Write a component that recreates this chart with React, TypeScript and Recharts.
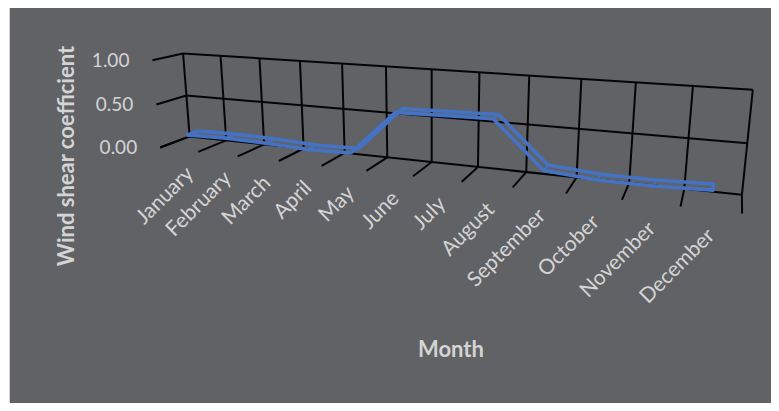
import { LineChart, Line, XAxis, YAxis, CartesianGrid } from "recharts";

const months = [
  "January", "February", "March", "April", "May", "June",
  "July", "August", "September", "October", "November", "December",
];
const shearCoefficient = [0.13, 0.14, 0.13, 0.11, 0.12, 0.6, 0.61, 0.62, 0.15, 0.11, 0.11, 0.13];
const valueTicks = [0, 0.5, 1];
const monthCenters = months.map((_, i) => i + 0.5);
const monthEdges = [...months.map((_, i) => i), months.length];

const data = months.map((month, i) => ({ month, pos: monthCenters[i], shear: shearCoefficient[i] }));

const WIDTH = 779;
const HEIGHT = 411;
// flat plot area handed to recharts; everything inside it is re-projected onto the 3-D box
const PLOT = { left: 100, top: 60, width: 560, height: 240 };
// the axes keep a 1px strip so that their ticks are still rendered
const AXIS_STRIP = 1;

const BLUE = "#4472c4";
const GRID = "#050505";
const TEXT = "#d4d4d4";
const FONT = "Lato, 'Open Sans', sans-serif";

// where the corners of the box land on screen: [u, v, w, x, y]
// u runs across the months, v up the value axis, w from the back wall (0) to the front (1)
const BOX_REFS = [
  [0, 1, 0, 183, 53],
  [0.5, 1, 0, 431.5, 70],
  [1, 1, 0, 753, 89.5],
  [0, 0.5, 0, 187, 96],
  [1, 0.5, 0, 747, 143],
  [0, 0, 0, 189, 137],
  [0.5, 0, 0, 432, 161],
  [1, 0, 0, 742, 195],
  [0, 1, 1, 152, 60],
  [0, 0.5, 1, 157, 105],
  [0, 0, 1, 160, 147],
  [1, 0, 1, 742, 214],
];
const RIBBON_BACK = 0.32;
const RIBBON_FRONT = 0.68;

// least squares fit of a 3x4 perspective camera (last entry fixed to 1)
function fitCamera(refs: number[][]) {
  const n = 11;
  const M = Array.from({ length: n }, () => new Array(n + 1).fill(0));
  for (const [u, v, w, x, y] of refs) {
    const rows = [
      [u, v, w, 1, 0, 0, 0, 0, -x * u, -x * v, -x * w, x],
      [0, 0, 0, 0, u, v, w, 1, -y * u, -y * v, -y * w, y],
    ];
    for (const r of rows)
      for (let i = 0; i < n; i++)
        for (let j = 0; j <= n; j++) M[i][j] += r[i] * r[j];
  }
  for (let c = 0; c < n; c++) {
    let p = c;
    for (let r = c + 1; r < n; r++) if (Math.abs(M[r][c]) > Math.abs(M[p][c])) p = r;
    [M[c], M[p]] = [M[p], M[c]];
    for (let r = 0; r < n; r++) {
      if (r === c) continue;
      const f = M[r][c] / M[c][c];
      for (let j = c; j <= n; j++) M[r][j] -= f * M[c][j];
    }
  }
  return M.map((row, i) => row[n] / row[i]);
}

const cam = fitCamera(BOX_REFS);

function project(u: number, v: number, w: number): [number, number] {
  const d = cam[8] * u + cam[9] * v + cam[10] * w + 1;
  return [
    (cam[0] * u + cam[1] * v + cam[2] * w + cam[3]) / d,
    (cam[4] * u + cam[5] * v + cam[6] * w + cam[7]) / d,
  ];
}

const toBox = (x: number, y: number) => [
  (x - PLOT.left) / PLOT.width,
  (PLOT.top + PLOT.height - y) / PLOT.height,
];

const Seg = ({ a, b, width = 2 }: { a: [number, number]; b: [number, number]; width?: number }) => (
  <line x1={a[0]} y1={a[1]} x2={b[0]} y2={b[1]} stroke={GRID} strokeWidth={width} />
);

// month boundary: wall column plus the floor tick in front of it
const wallColumn = (props: any) => {
  const [u] = toBox(props.x1, props.y1);
  return (
    <g key={props.key}>
      <Seg a={project(u, 1, 0)} b={project(u, 0, 0)} />
      <Seg a={project(u, 0, 0)} b={project(u, 0, 1)} />
    </g>
  );
};

// value gridline across the back wall plus its stub on the side wall
const wallRow = (props: any) => {
  const [, v] = toBox(props.x1, props.y1);
  return (
    <g key={props.key}>
      <Seg a={project(0, v, 0)} b={project(1, v, 0)} />
      <Seg a={project(0, v, 1)} b={project(0, v, 0)} />
    </g>
  );
};

const renderRibbon = (props: any) => {
  const { index, points } = props;
  if (index !== 0 || !points) return <g key={`dot-${index}`} />;
  const edges = points.map((p: any) => {
    const [u, v] = toBox(p.x, p.y);
    return [project(u, v, RIBBON_BACK), project(u, v, RIBBON_FRONT)];
  });
  const back = edges.map((e: any) => e[0].join(",")).join(" ");
  const front = edges.map((e: any) => e[1].join(",")).join(" ");
  return (
    <g key="ribbon" fill="none" stroke={BLUE} strokeLinejoin="round" strokeLinecap="round">
      <polyline points={back} strokeWidth={3.6} />
      <polyline points={front} strokeWidth={3.6} />
      {edges.map(([b, f]: any, i: number) => (
        <line
          key={i}
          x1={b[0]}
          y1={b[1]}
          x2={f[0]}
          y2={f[1]}
          strokeWidth={i === 0 || i === edges.length - 1 ? 3.6 : 2}
        />
      ))}
    </g>
  );
};

const ValueTick = (props: any) => {
  const [, v] = toBox(PLOT.left, props.y);
  const [x, y] = project(0, v, 1);
  return (
    <text x={x - 23} y={y} dy="0.35em" textAnchor="end" fill={TEXT} fontSize={19} fontFamily={FONT}>
      {Number(props.payload.value).toFixed(2)}
    </text>
  );
};

const MonthTick = (props: any) => {
  const [u] = toBox(props.x, 0);
  const [px, py] = project(u, 0, 1);
  const ax = px + 11 - 12 * u;
  const ay = py + 20 + 2 * u;
  return (
    <text
      x={ax}
      y={ay}
      dy="0.35em"
      transform={`rotate(-45 ${ax} ${ay})`}
      textAnchor="end"
      fill={TEXT}
      fontSize={21}
      fontFamily={FONT}
    >
      {months[Math.floor(props.payload.value)]}
    </text>
  );
};

const titleStyle = { fill: TEXT, fontSize: 22, fontWeight: 700, fontFamily: FONT };

export default function App() {
  return (
    <div style={{ position: "relative", width: WIDTH, height: HEIGHT, margin: -8, background: "#fff" }}>
      <div
        style={{
          position: "absolute",
          left: 9,
          top: 7,
          right: 0,
          bottom: 0,
          background: "#616266",
          borderLeft: "1px solid #d2d2d2",
          borderTop: "1px solid #d2d2d2",
        }}
      />
      <div style={{ position: "absolute", left: 0, top: 0 }}>
        <LineChart
          width={WIDTH}
          height={HEIGHT}
          data={data}
          margin={{
            top: PLOT.top,
            left: PLOT.left - AXIS_STRIP,
            right: WIDTH - PLOT.left - PLOT.width,
            bottom: HEIGHT - PLOT.top - PLOT.height - AXIS_STRIP,
          }}
        >
          <XAxis
            xAxisId="edges"
            dataKey="pos"
            type="number"
            domain={[0, months.length]}
            ticks={monthEdges}
            interval={0}
            allowDataOverflow
            hide
          />
          <XAxis
            xAxisId="labels"
            dataKey="pos"
            type="number"
            domain={[0, months.length]}
            ticks={monthCenters}
            interval={0}
            height={AXIS_STRIP}
            axisLine={false}
            tickLine={false}
            tick={MonthTick}
            label={{
              content: () => (
                <text x={451} y={349} dy="0.35em" textAnchor="middle" {...titleStyle}>
                  Month
                </text>
              ),
            }}
          />
          <YAxis
            type="number"
            domain={[0, 1]}
            ticks={valueTicks}
            interval={0}
            width={AXIS_STRIP}
            axisLine={false}
            tickLine={false}
            tick={ValueTick}
            label={{
              content: () => (
                <text
                  x={66}
                  y={156}
                  dy="0.35em"
                  textAnchor="middle"
                  transform="rotate(-90 66 156)"
                  {...titleStyle}
                >
                  Wind shear coefficient
                </text>
              ),
            }}
          />
          <CartesianGrid xAxisId="edges" horizontal={wallRow} vertical={wallColumn} />
          <Line
            xAxisId="labels"
            dataKey="shear"
            stroke="none"
            dot={renderRibbon}
            activeDot={false}
            isAnimationActive={false}
          />
        </LineChart>
      </div>
    </div>
  );
}
